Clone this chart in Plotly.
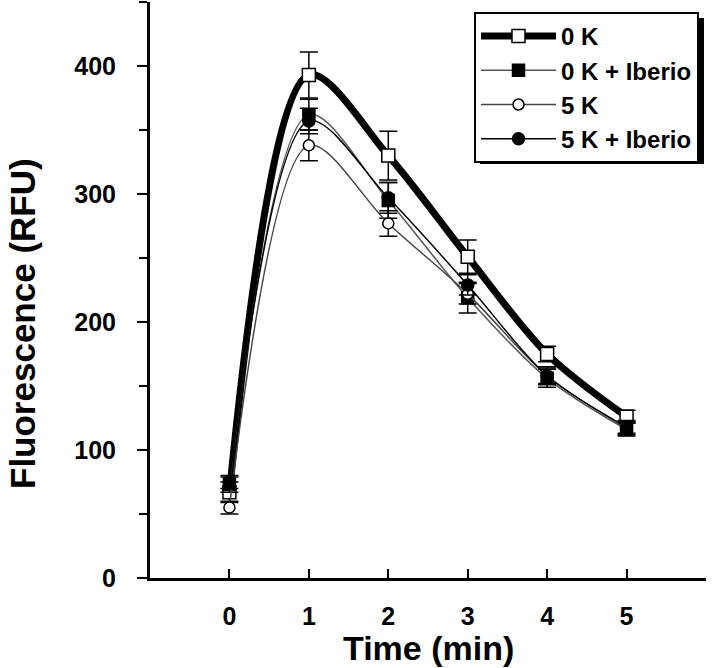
import plotly.graph_objects as go

time_min = [0, 1, 2, 3, 4, 5]

k0 = [67, 393, 330, 251, 175, 126]
k0_err = [8, 18, 19, 13, 6, 5]
k0_ib = [73, 362, 295, 219, 156, 116]
k0_ib_err = [6, 12, 14, 12, 7, 5]
k5 = [55, 338, 277, 222, 158, 117]
k5_err = [5, 12, 10, 8, 6, 5]
k5_ib = [75, 357, 297, 229, 158, 118]
k5_ib_err = [5, 10, 12, 8, 7, 5]

series_names = ["0 K", "0 K + Iberio", "5 K", "5 K + Iberio"]

x_tickvals = [-1, 0, 1, 2, 3, 4, 5, 6]
x_ticktext = ["", "0", "1", "2", "3", "4", "5", ""]
y_tickvals = [0, 100, 200, 300, 400]
y_ticktext = ["0", "100", "200", "300", "400"]

FONT = "Arial, Liberation Sans, sans-serif"

fig = go.Figure()

styles = [
    dict(y=k0, e=k0_err, lw=7, lc="black", sym="square", mc="white", ms=13),
    dict(y=k0_ib, e=k0_ib_err, lw=1.5, lc="#555555", sym="square", mc="black", ms=12),
    dict(y=k5, e=k5_err, lw=1.5, lc="#444444", sym="circle", mc="white", ms=11),
    dict(y=k5_ib, e=k5_ib_err, lw=1.5, lc="black", sym="circle", mc="black", ms=12),
]

for name, s in zip(series_names, styles):
    fig.add_trace(go.Scatter(
        x=time_min, y=s["y"], name=name, mode="lines+markers",
        line=dict(color=s["lc"], width=s["lw"], shape="spline", smoothing=0.9),
        marker=dict(symbol=s["sym"], color=s["mc"], size=s["ms"],
                    line=dict(color="black", width=1.5)),
        error_y=dict(type="data", array=s["e"], visible=True,
                     color="black", thickness=1.5, width=9),
    ))

# legend drop shadow
fig.add_shape(type="rect", xref="paper", yref="paper",
              x0=(480 - 150) / 556, x1=(704 - 150) / 556,
              y0=(578 - 164) / 576, y1=(578 - 18) / 576,
              fillcolor="black", line=dict(width=0), layer="above")

fig.update_layout(
    width=720, height=668,
    margin=dict(l=150, r=14, t=2, b=90),
    paper_bgcolor="white", plot_bgcolor="white",
    font=dict(family=FONT, size=26, color="black", weight="bold"),
    showlegend=True,
    legend=dict(
        x=(474 - 150) / 556, y=(578 - 12) / 576, xanchor="left", yanchor="top",
        bgcolor="white", bordercolor="black", borderwidth=2,
        font=dict(family=FONT, size=24, color="black", weight="bold"),
        itemwidth=75, tracegroupgap=0,
    ),
    xaxis=dict(
        range=[-1, 6], tickvals=x_tickvals, ticktext=x_ticktext,
        ticks="inside", ticklen=9, tickwidth=2, tickcolor="black",
        showline=True, linewidth=3, linecolor="black",
        showgrid=False, zeroline=False, ticklabelstandoff=14,
        tickfont=dict(size=25),
    ),
    yaxis=dict(
        range=[0, 450], tickvals=y_tickvals, ticktext=y_ticktext,
        ticks="outside", ticklen=10, tickwidth=2, tickcolor="black",
        minor=dict(dtick=50, ticks="outside", ticklen=8, tickwidth=2, tickcolor="black"),
        showline=True, linewidth=3, linecolor="black",
        showgrid=False, zeroline=False, ticklabelstandoff=16,
        tickfont=dict(size=25),
    ),
    annotations=[
        dict(text="Time (min)", xref="paper", yref="paper",
             x=0.5, y=(578 - 648) / 576, xanchor="center", yanchor="middle",
             showarrow=False, font=dict(family=FONT, size=34, weight="bold")),
        dict(text="Fluorescence (RFU)", xref="paper", yref="paper",
             x=(22 - 150) / 556, y=(578 - 324) / 576, xanchor="center", yanchor="middle",
             textangle=-90, showarrow=False,
             font=dict(family=FONT, size=35, weight="bold")),
    ],
)

fig.write_html("out.html", config={"displayModeBar": False},
               post_script="document.body.style.margin='0';")
